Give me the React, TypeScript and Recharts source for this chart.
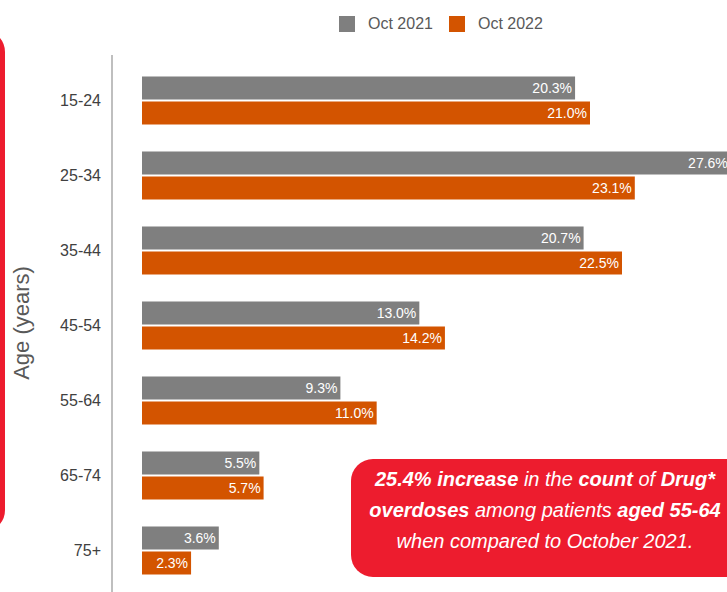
import React from "react";
import { BarChart, Bar, XAxis, YAxis, LabelList } from "recharts";

// age groups and share of overdoses (%)
const ageGroups = ["15-24", "25-34", "35-44", "45-54", "55-64", "65-74", "75+"];
const oct2021 = [20.3, 27.6, 20.7, 13.0, 9.3, 5.5, 3.6];
const oct2022 = [21.0, 23.1, 22.5, 14.2, 11.0, 5.7, 2.3];
const seriesNames = ["Oct 2021", "Oct 2022"];
const seriesColors = ["#7F7F7F", "#D35400"];

const FONT = '"Liberation Sans", Arial, sans-serif';

const fmt = (v: any) => `${Number(v).toFixed(1)}%`;

export default function App() {
  const data = ageGroups.map((age, i) => ({
    age,
    a: oct2021[i],
    b: oct2022[i],
  }));

  return (
    <div
      style={{
        position: "fixed",
        left: 0,
        top: 0,
        width: 727,
        height: 592,
        overflow: "hidden",
        background: "#fff",
        fontFamily: FONT,
      }}
    >
      {/* red frame peeking in from the left */}
      <div
        style={{
          position: "absolute",
          left: -200,
          top: 30,
          width: 205,
          height: 502,
          boxSizing: "border-box",
          border: "5px solid #ED1C2E",
          borderRadius: 22,
        }}
      />

      {/* legend */}
      <div
        style={{
          position: "absolute",
          top: 15,
          left: 339,
          display: "flex",
          alignItems: "center",
          fontSize: 16,
          color: "#595959",
          whiteSpace: "nowrap",
        }}
      >
        {seriesNames.map((name, i) => (
          <div key={name} style={{ display: "flex", alignItems: "center", marginRight: 16 }}>
            <span style={{ width: 16, height: 16, background: seriesColors[i], display: "inline-block", marginRight: 13 }} />
            <span>{name}</span>
          </div>
        ))}
      </div>

      {/* axis title */}
      <div
        style={{
          position: "absolute",
          left: 22,
          top: 323,
          transform: "translate(-50%, -50%) rotate(-90deg)",
          fontSize: 22,
          color: "#595959",
          whiteSpace: "nowrap",
        }}
      >
        Age (years)
      </div>

      <div style={{ position: "absolute", left: 0, top: 0 }}>
        <BarChart
          width={800}
          height={592}
          data={data}
          layout="vertical"
          margin={{ top: 55, right: 18, bottom: 0, left: 42 }}
          barCategoryGap={14}
          barGap={2}
        >
          <XAxis type="number" hide domain={[0, 30]} padding={{ left: 30, right: 0 }} />
          <YAxis
            type="category"
            dataKey="age"
            width={70}
            tickLine={false}
            tickSize={0}
            tickMargin={11}
            axisLine={{ stroke: "#BFBFBF", strokeWidth: 2 }}
            tick={{ fill: "#404040", fontSize: 16, fontFamily: FONT }}
            padding={{ top: 7.5, bottom: 4.5 }}
          />
          <Bar dataKey="a" name={seriesNames[0]} fill={seriesColors[0]} isAnimationActive={false}>
            <LabelList dataKey="a" position="insideRight" offset={3} fill="#fff" fontSize={14} fontFamily={FONT} formatter={fmt} />
          </Bar>
          <Bar dataKey="b" name={seriesNames[1]} fill={seriesColors[1]} isAnimationActive={false}>
            <LabelList dataKey="b" position="insideRight" offset={3} fill="#fff" fontSize={14} fontFamily={FONT} formatter={fmt} />
          </Bar>
        </BarChart>
      </div>

      {/* callout */}
      <div
        style={{
          position: "absolute",
          left: 351,
          top: 459,
          width: 400,
          height: 118,
          boxSizing: "border-box",
          paddingTop: 5,
          paddingRight: 12,
          background: "#ED1C2E",
          borderRadius: 22,
          color: "#fff",
          fontStyle: "italic",
          fontFamily: '"Liberation Sans Narrow", "Liberation Sans", Arial, sans-serif',
          fontSize: 20,
          lineHeight: "31px",
          textAlign: "center",
          whiteSpace: "nowrap",
        }}
      >
        <div>
          <b>25.4% increase</b> in the <b>count</b> of <b>Drug*</b>
        </div>
        <div>
          <b>overdoses</b> among patients <b>aged 55-64</b>
        </div>
        <div>when compared to October 2021.</div>
      </div>
    </div>
  );
}
